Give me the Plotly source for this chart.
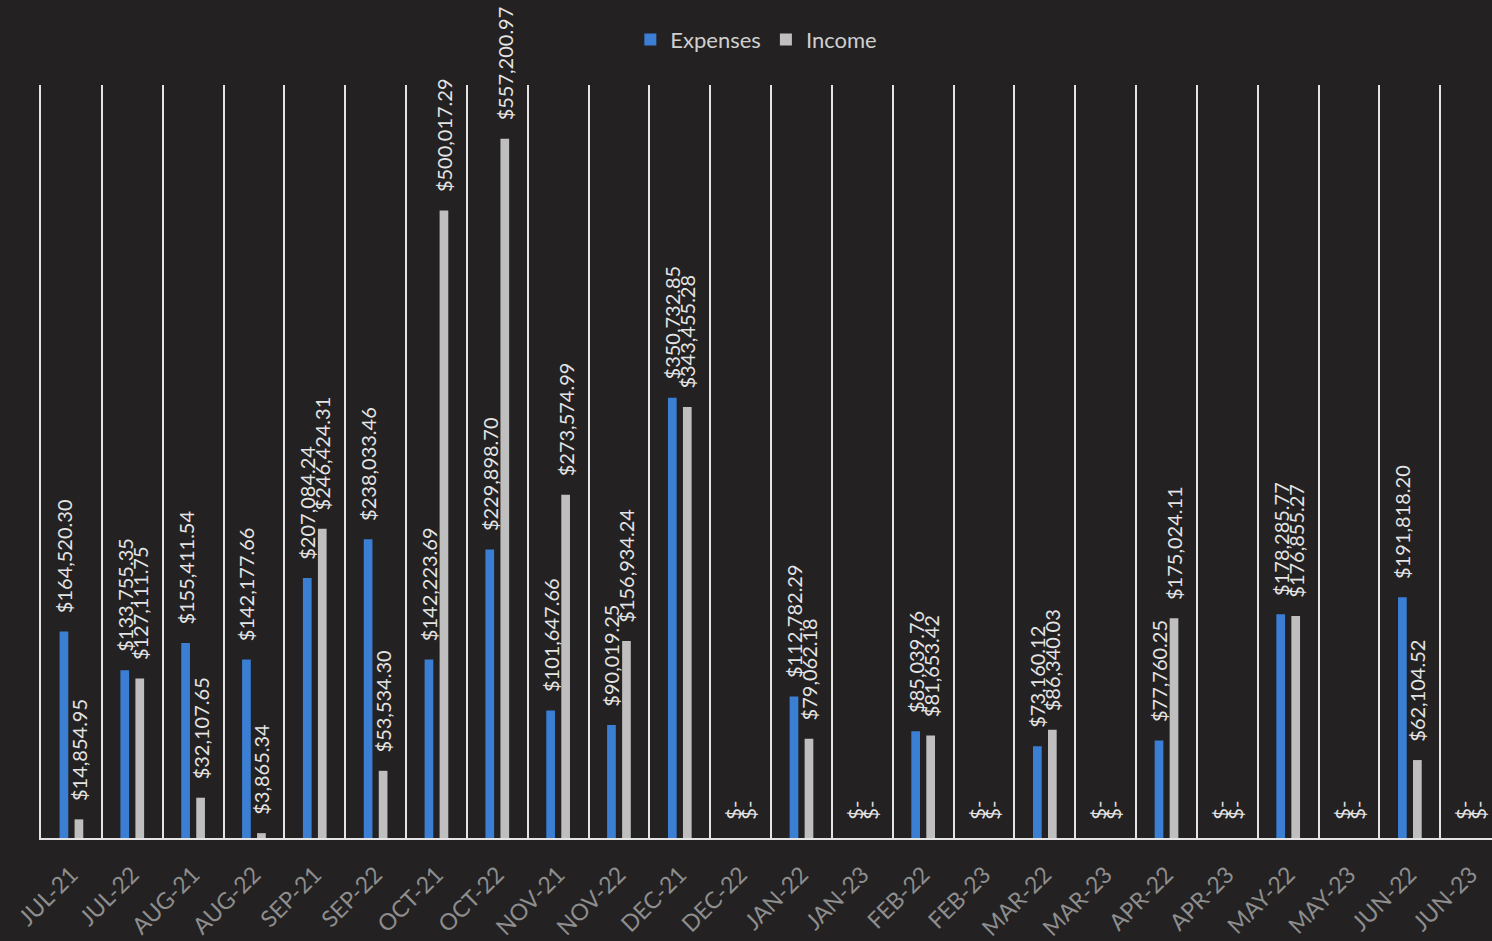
import plotly.graph_objects as go

# Monthly totals, fiscal years 2021-22 and 2022-23 interleaved by month
months = [
    "JUL-21", "JUL-22", "AUG-21", "AUG-22", "SEP-21", "SEP-22",
    "OCT-21", "OCT-22", "NOV-21", "NOV-22", "DEC-21", "DEC-22",
    "JAN-22", "JAN-23", "FEB-22", "FEB-23", "MAR-22", "MAR-23",
    "APR-22", "APR-23", "MAY-22", "MAY-23", "JUN-22", "JUN-23",
]

expenses = [
    164520.30, 133755.35, 155411.54, 142177.66, 207084.24, 238033.46,
    142223.69, 229898.70, 101647.66, 90019.25, 350732.85, 0,
    112782.29, 0, 85039.76, 0, 73160.12, 0,
    77760.25, 0, 178285.77, 0, 191818.20, 0,
]

income = [
    14854.95, 127111.75, 32107.65, 3865.34, 246424.31, 53534.30,
    500017.29, 557200.97, 273574.99, 156934.24, 343455.28, 0,
    79062.18, 0, 81653.42, 0, 86340.03, 0,
    175024.11, 0, 176855.27, 0, 62104.52, 0,
]

BG = "#232122"
BLUE = "#3b7fd4"
GREY = "#bfbfbf"
LINE = "#e4e4e4"
FONT = "Lato, 'Open Sans', sans-serif"
PAD = "\u00a0" * 3  # small lead-in so labels sit clear of the bar tops


def money(v):
    # accounting-style label: zero shows as a dash
    return PAD + ("$-" if v == 0 else f"${v:,.2f}")


fig = go.Figure()
for name, vals, color in [("Expenses", expenses, BLUE), ("Income", income, GREY)]:
    fig.add_trace(go.Bar(
        name=name,
        x=months,
        y=vals,
        marker=dict(color=color, line=dict(width=0)),
        text=[money(v) for v in vals],
        textposition="outside",
        textangle=-90,
        constraintext="none",
        cliponaxis=False,
        textfont=dict(family=FONT, size=20, color="#e4e4e4"),
    ))

fig.update_layout(
    width=1492,
    height=941,
    paper_bgcolor=BG,
    plot_bgcolor=BG,
    barmode="group",
    bargap=0.507,
    bargroupgap=0.42,
    margin=dict(l=41, r=0, t=85, b=103),
    showlegend=True,
    legend=dict(
        orientation="h",
        x=0.493, xanchor="center",
        y=1.06, yanchor="middle",
        font=dict(family=FONT, size=22, color="#cfcfcf"),
        bgcolor="rgba(0,0,0,0)",
        itemclick=False,
        itemwidth=30,
    ),
    font=dict(family=FONT),
)

fig.update_xaxes(
    type="category",
    range=[-0.5, 23.35],
    tickson="boundaries",
    showgrid=True,
    gridcolor=LINE,
    gridwidth=2,
    ticks="",
    tickangle=-45,
    ticklabelstandoff=12,
    tickfont=dict(family=FONT, size=23, color="#8e8e8e"),
    showline=True,
    linecolor=LINE,
    linewidth=2,
    zeroline=False,
)

fig.update_yaxes(
    range=[0, 600000],
    showgrid=False,
    showticklabels=False,
    ticks="",
    zeroline=False,
    showline=True,
    linecolor=LINE,
    linewidth=2,
)

fig.write_html("out.html")
